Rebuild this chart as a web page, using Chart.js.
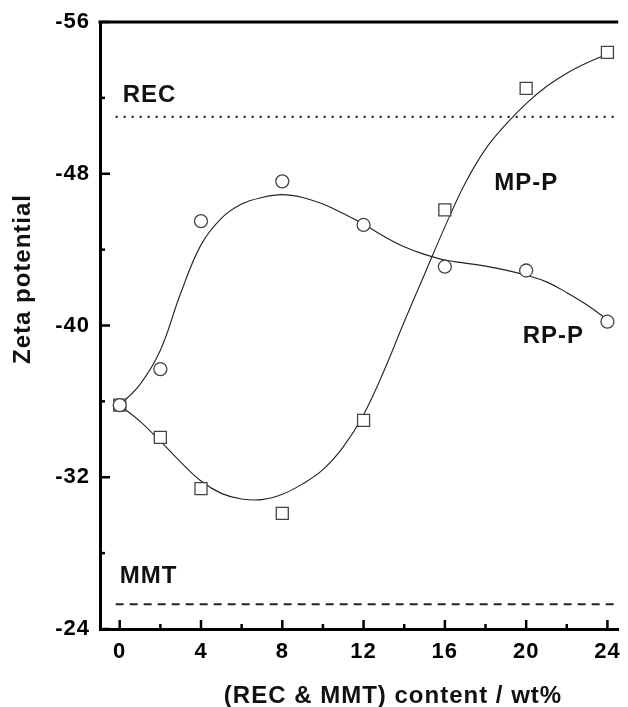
<!DOCTYPE html>
<html><head><meta charset="utf-8">
<script src="https://cdn.jsdelivr.net/npm/chart.js@4.4.1/dist/chart.umd.min.js"></script>
<style>html,body{margin:0;padding:0;background:#fff;overflow:hidden}canvas{display:block}</style>
</head><body>
<canvas id="c" width="628" height="707"></canvas>
<script>
// ---- data ----
const contentX = [0, 2, 4, 8, 12, 16, 20, 24];
const rppZeta = [-35.8, -37.7, -45.5, -47.6, -45.3, -43.1, -42.9, -40.2];
const mppZeta = [-35.8, -34.1, -31.4, -30.1, -35.0, -46.1, -52.5, -54.4];

// smooth fitted curves at each wt% step
const fitX = [0, 1, 2, 3, 4, 5, 6, 7, 8, 9, 10, 11, 12, 13, 14, 15, 16, 17, 18, 19, 20, 21, 22, 23, 24];
const rppFit = [-35.8, -36.9, -38.7, -41.7, -44.25, -45.65, -46.4, -46.75, -46.9, -46.75, -46.4, -45.9, -45.35, -44.7, -44.15, -43.75, -43.45, -43.29, -43.13, -42.92, -42.65, -42.3, -41.73, -41.08, -40.3];
const mppFit = [-35.8, -34.95, -33.9, -32.8, -31.8, -31.15, -30.85, -30.82, -31.1, -31.65, -32.4, -33.6, -35.3, -37.6, -40.2, -42.7, -45.2, -47.5, -49.3, -50.6, -51.7, -52.6, -53.3, -53.85, -54.3];

const recLevel = -51.0;
const mmtLevel = -25.3;
const refSpan = [-0.2, 24.53];

const xTickValues = [0, 2, 4, 6, 8, 10, 12, 14, 16, 18, 20, 22, 24];
const xTickLabels = ['0', '', '4', '', '8', '', '12', '', '16', '', '20', '', '24'];
const yTickValues = [-56, -52, -48, -44, -40, -36, -32, -28, -24];
const yTickLabels = ['-56', '', '-48', '', '-40', '', '-32', '', '-24'];

const xTitle = '(REC & MMT) content / wt%';
const yTitle = 'Zeta potential';

// text annotations (position in data units, left edge / baseline)
const notes = [
  {text: 'REC', x: 0.145, y: -51.78},
  {text: 'MMT', x: 0.0, y: -26.43},
  {text: 'MP-P', x: 18.43, y: -47.14},
  {text: 'RP-P', x: 19.83, y: -39.09}
];

const FONT = '"Liberation Sans", Arial, sans-serif';

const pts = (xs, ys) => xs.map((x, i) => ({x: x, y: ys[i]}));

const decor = {
  id: 'decor',
  beforeUpdate(chart) { chart.ctx.letterSpacing = '1px'; },
  beforeDraw(chart) { chart.ctx.letterSpacing = '1px'; },
  afterDraw(chart) {
    const ctx = chart.ctx, a = chart.chartArea, sx = chart.scales.x, sy = chart.scales.y;
    ctx.save();
    ctx.strokeStyle = '#000';
    // top frame line
    ctx.lineWidth = 3;
    ctx.beginPath(); ctx.moveTo(a.left - 1.5, a.top); ctx.lineTo(a.right, a.top); ctx.stroke();
    // inward ticks
    ctx.lineWidth = 2.5;
    xTickValues.forEach((v, i) => {
      const p = sx.getPixelForValue(v);
      const len = xTickLabels[i] ? 9 : 5;
      ctx.beginPath(); ctx.moveTo(p, a.bottom); ctx.lineTo(p, a.bottom - len); ctx.stroke();
    });
    yTickValues.forEach((v, i) => {
      const p = sy.getPixelForValue(v);
      const len = yTickLabels[i] ? 10 : 5;
      ctx.beginPath(); ctx.moveTo(a.left, p); ctx.lineTo(a.left + len, p); ctx.stroke();
    });
    // annotations
    ctx.fillStyle = '#111';
    ctx.font = 'bold 24px ' + FONT;
    ctx.textAlign = 'left'; ctx.textBaseline = 'alphabetic';
    notes.forEach(n => ctx.fillText(n.text, sx.getPixelForValue(n.x), sy.getPixelForValue(n.y)));
    // axis titles
    ctx.textAlign = 'center';
    ctx.fillText(xTitle, 393, 703);
    ctx.translate(30, 279); ctx.rotate(-Math.PI / 2);
    ctx.fillText(yTitle, 0, 0);
    ctx.restore();
  }
};

const tickFont = {family: FONT, size: 22, weight: 'bold'};

new Chart(document.getElementById('c'), {
  type: 'scatter',
  data: {
    datasets: [
      {label: 'RP-P', data: pts(contentX, rppZeta), showLine: false, pointStyle: 'circle', pointRadius: 6.5,
       backgroundColor: '#fff', borderColor: '#444', borderWidth: 1.3, order: 0},
      {label: 'MP-P', data: pts(contentX, mppZeta), showLine: false, pointStyle: 'rect', pointRadius: 8.5,
       backgroundColor: '#fff', borderColor: '#444', borderWidth: 1.3, order: 0},
      {label: 'RP-P fit', data: pts(fitX, rppFit), showLine: true, pointRadius: 0, borderColor: '#222',
       borderWidth: 1.1, tension: 0.4, order: 2},
      {label: 'MP-P fit', data: pts(fitX, mppFit), showLine: true, pointRadius: 0, borderColor: '#222',
       borderWidth: 1.1, tension: 0.4, order: 2},
      {label: 'REC', data: refSpan.map(x => ({x: x, y: recLevel})), showLine: true, pointRadius: 0,
       borderColor: '#222', borderWidth: 2.2, borderDash: [2, 6], order: 3},
      {label: 'MMT', data: refSpan.map(x => ({x: x, y: mmtLevel})), showLine: true, pointRadius: 0,
       borderColor: '#222', borderWidth: 2, borderDash: [8, 6], order: 3}
    ]
  },
  options: {
    responsive: false,
    animation: false,
    devicePixelRatio: 1,
    layout: {padding: {top: 22, right: 0, bottom: 0, left: 0}},
    plugins: {legend: {display: false}, tooltip: {enabled: false}},
    scales: {
      x: {
        type: 'linear', min: -0.97, max: 24.53,
        afterBuildTicks: s => { s.ticks = xTickValues.map(v => ({value: v})); },
        afterFit: s => { s.height = 78; s.paddingLeft = 0; s.paddingRight = 0; },
        grid: {display: true, drawOnChartArea: false, drawTicks: false},
        border: {display: true, width: 3, color: '#000'},
        ticks: {autoSkip: false, maxRotation: 0, padding: 10, color: '#000', font: tickFont,
          callback: v => { const i = xTickValues.indexOf(v); return i >= 0 ? xTickLabels[i] : ''; }}
      },
      y: {
        type: 'linear', reverse: true, min: -56, max: -24,
        afterBuildTicks: s => { s.ticks = yTickValues.map(v => ({value: v})); },
        afterFit: s => { s.width = 100; s.paddingTop = 0; s.paddingBottom = 0; },
        grid: {display: true, drawOnChartArea: false, drawTicks: false},
        border: {display: true, width: 3, color: '#000'},
        ticks: {autoSkip: false, padding: 10, color: '#000', font: tickFont,
          callback: v => { const i = yTickValues.indexOf(v); return i >= 0 ? yTickLabels[i] : ''; }}
      }
    }
  },
  plugins: [decor]
});
</script>
</body></html>
